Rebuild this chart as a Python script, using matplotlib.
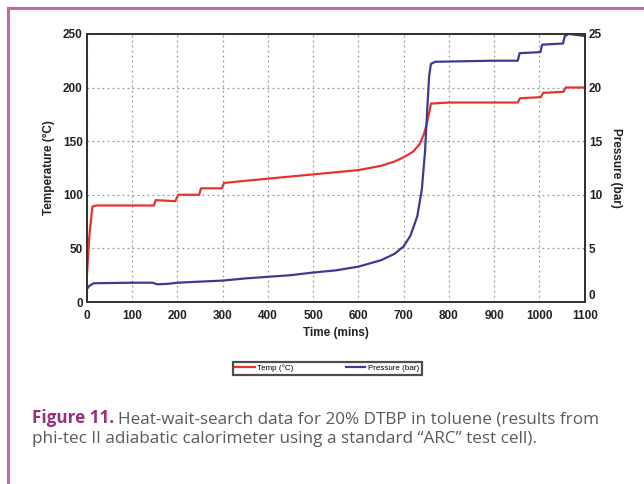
import matplotlib
matplotlib.use('Agg')
import matplotlib.pyplot as plt
from matplotlib.lines import Line2D
from matplotlib.font_manager import FontProperties

# temperature trace (time in mins, temp in C)
temp_t = [0, 5, 12, 20, 100, 148, 152, 195, 202, 248, 252, 298, 303, 350, 400, 450, 500,
          550, 600, 650, 680, 700, 720, 735, 745, 752, 757, 760, 800, 900, 952, 957,
          1003, 1008, 1053, 1058, 1100]
temp_v = [25, 60, 89, 90, 90, 90, 95, 94, 100, 100, 106, 106, 111, 113, 115, 117, 119,
          121, 123, 127, 131, 135, 140, 147, 157, 168, 178, 185, 186, 186, 186, 190,
          191, 195, 196, 200, 200]

# pressure trace (time in mins, pressure in bar)
pres_t = [0, 5, 15, 100, 145, 155, 180, 200, 250, 300, 350, 400, 450, 500, 550, 600, 650,
          680, 700, 715, 730, 740, 747, 752, 756, 760, 770, 900, 952, 956, 1002, 1006,
          1052, 1056, 1065, 1100]
pres_v = [1.2, 1.5, 1.75, 1.8, 1.8, 1.65, 1.7, 1.8, 1.9, 2.0, 2.2, 2.35, 2.5, 2.75, 2.95,
          3.3, 3.9, 4.5, 5.2, 6.2, 8.0, 10.5, 14.0, 18.0, 21.0, 22.2, 22.4, 22.5, 22.5,
          23.2, 23.3, 24.0, 24.1, 24.8, 25.0, 24.8]

x_ticks = list(range(0, 1101, 100))
t_ticks = [0, 50, 100, 150, 200, 250]
p_ticks = [0, 5, 10, 15, 20, 25]

red = '#e5342c'
blue = '#3b3b93'
frame = '#c06a9e'

fig = plt.figure(figsize=(6.44, 4.84), dpi=100)
fig.patch.set_facecolor('white')

# page border (top and left only)
fig.add_artist(Line2D([0.0124, 1.0], [0.983, 0.983], color=frame, lw=2.2, transform=fig.transFigure))
fig.add_artist(Line2D([0.0124, 0.0124], [0.0, 0.983], color=frame, lw=2.2, transform=fig.transFigure))

ax = fig.add_axes([0.135, 0.376, 0.773, 0.554])
ax2 = ax.twinx()

l1, = ax.plot(temp_t, temp_v, color=red, lw=1.6)
l2, = ax2.plot(pres_t, pres_v, color=blue, lw=1.6)

ax.set_xlim(0, 1100)
ax.set_ylim(0, 250)
ax2.set_ylim(0, 25)
ax.set_xticks(x_ticks)
ax.set_yticks(t_ticks)
ax2.set_yticks(p_ticks)
ax.grid(True, color='#9a9a9a', ls=(0, (1.5, 2.5)), lw=0.9)

tick_fp = FontProperties(family='Liberation Sans', weight='bold', size=8.5)
for a in (ax, ax2):
    a.tick_params(length=0, pad=3, colors='#222222')
    for lab in a.get_xticklabels() + a.get_yticklabels():
        lab.set_fontproperties(tick_fp)
    for s in a.spines.values():
        s.set_linewidth(1.3)
        s.set_color('#333333')
ax.tick_params(axis='x', pad=6)
# right-hand "0" sits just above the axis corner
ax2.get_yticklabels()[0].set_va('bottom')

label_font = dict(family='Liberation Sans', weight='bold', size=8.5, color='#222222')
ax.set_xlabel('Time (mins)', labelpad=3, **label_font)
ax.set_ylabel('Temperature (°C)', labelpad=6, **label_font)
ax2.set_ylabel('Pressure (bar)', rotation=270, labelpad=14, **label_font)

leg = fig.legend([l1, l2], ['Temp (°C)', 'Pressure (bar)'], loc='center',
                 bbox_to_anchor=(0.508, 0.239), ncol=2, frameon=True, fancybox=False,
                 prop=dict(family='Liberation Sans', size=5.8), handlelength=2.4,
                 columnspacing=6.5, borderpad=0.35, handletextpad=0.3)
leg.get_frame().set_edgecolor('#222222')
leg.get_frame().set_linewidth(1.6)

# caption
cap_font = dict(family='Open Sans', size=12.3)
y1, y2 = 1 - 423 / 484, 1 - 443 / 484
t1 = fig.text(0.050, y1, 'Figure 11.', color='#9a2f78', weight='bold', va='baseline', **cap_font)
fig.canvas.draw()
bb = t1.get_window_extent()
x_next = (bb.x1 + 4) / fig.bbox.width
fig.text(x_next, y1, 'Heat-wait-search data for 20% DTBP in toluene (results from',
         color='#5a5a5a', va='baseline', **cap_font)
fig.text(0.050, y2, 'phi-tec II adiabatic calorimeter using a standard \u201cARC\u201d test cell).',
         color='#5a5a5a', va='baseline', **cap_font)

fig.savefig('out.png', dpi=100)
